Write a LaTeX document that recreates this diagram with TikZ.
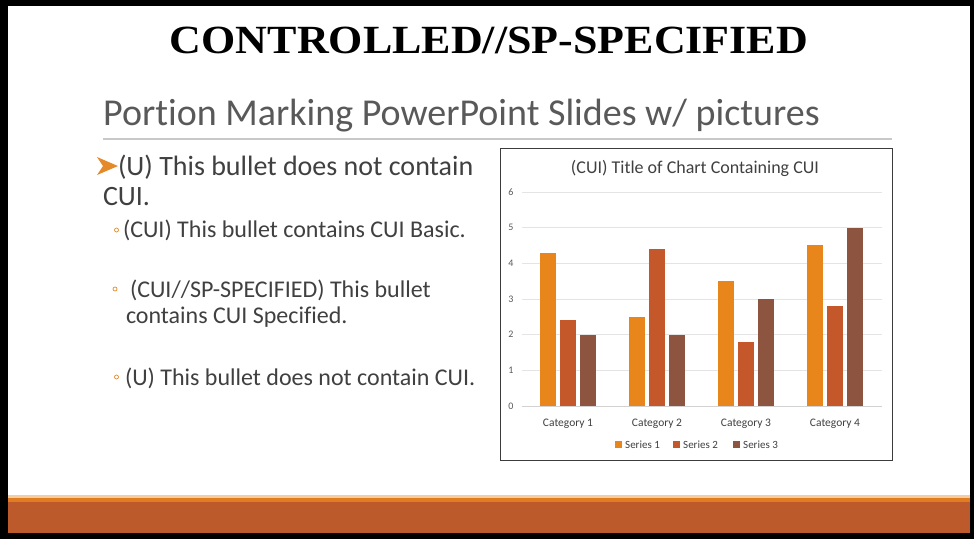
\documentclass[tikz,border=0pt]{standalone}
\usepackage{fontspec}
\setmainfont{Carlito}[Ligatures=NoCommon]
\newfontfamily\headfont{Liberation Serif}
\definecolor{barlight}{RGB}{245,205,160}
\definecolor{barmid}{RGB}{226,124,34}
\definecolor{bardark}{RGB}{188,90,44}
\definecolor{subgray}{RGB}{89,89,89}
\definecolor{txtgray}{RGB}{64,64,64}
\definecolor{rulegray}{RGB}{200,200,200}
\definecolor{arroworange}{RGB}{228,138,42}
\definecolor{serA}{RGB}{232,134,28}
\definecolor{serB}{RGB}{196,88,42}
\definecolor{serC}{RGB}{141,85,64}
\definecolor{gridgray}{RGB}{228,228,228}
\definecolor{axisgray}{RGB}{210,210,210}
\definecolor{chartborder}{RGB}{60,60,60}
\definecolor{lblgray}{RGB}{89,89,89}
\tikzset{
  txt/.style={anchor=base west, text=txtgray, inner sep=0pt, outer sep=0pt},
  big/.style={txt, font=\fontsize{28}{28}\selectfont},
  small/.style={txt, font=\fontsize{24}{24}\selectfont},
  subbul/.style={circle, draw=arroworange, line width=0.7pt, minimum size=4pt, inner sep=0pt},
  axlbl/.style={text=lblgray, font=\fontsize{10}{10}\selectfont, inner sep=0pt},
  catlbl/.style={anchor=base, text=txtgray, font=\fontsize{11.5}{11.5}\selectfont, inner sep=0pt},
  leglbl/.style={anchor=base west, text=txtgray, font=\fontsize{11}{11}\selectfont, inner sep=0pt},
}
\begin{document}
\begin{tikzpicture}[x=1pt,y=-1pt]
\useasboundingbox (0,0) rectangle (974,539);
% frame
\fill[black] (0,0) rectangle (974,539);
\fill[white] (8,6) rectangle (970,533);
\fill[barlight] (8,495) rectangle (970,497.5);
\fill[barmid] (8,497.5) rectangle (970,501.5);
\fill[bardark] (8,501.5) rectangle (970,533);
% heading
\node[anchor=base, inner sep=0pt] (head) at (489,53)
  {\headfont\bfseries\fontsize{40}{40}\selectfont\scalebox{1.1}[1]{CONTROLLED//SP-SPECIFIED}};
% subtitle
\node[anchor=base west, inner sep=0pt, text=subgray] (sub) at (103,125)
  {\fontsize{38}{38}\selectfont Portion Marking PowerPoint Slides w/ pictures};
\draw[rulegray, line width=1.2pt] (103,139) -- (892,139);
% bullets
\fill[arroworange] (97,157) -- (118,166) -- (97,175) -- (103,166) -- cycle;
\node[big] (b1) at (118,175) {(U) This bullet does not contain};
\node[big] (b1b) at (103,205) {CUI.};
\node[subbul] (c1) at (116.5,230) {};
\node[small] (s1) at (123,237) {(CUI) This bullet contains CUI Basic.};
\node[subbul] (c2) at (115,289) {};
\node[small] (s2) at (130,297) {(CUI//SP-SPECIFIED) This bullet};
\node[small] (s2b) at (126,323) {contains CUI Specified.};
\node[subbul] (c3) at (116.5,377) {};
\node[small] (s3) at (125,385) {(U) This bullet does not contain CUI.};
% chart
\node[draw=chartborder, line width=1.3pt, minimum width=392pt, minimum height=312pt, anchor=north west, inner sep=0pt] (chart) at (500,148) {};
\node[anchor=base, text=txtgray, font=\fontsize{18}{18}\selectfont, inner sep=0pt] (ctitle) at (695,173) {(CUI) Title of Chart Containing CUI};
\foreach \v in {1,...,6} {
  \draw[gridgray, line width=0.8pt] (522,406-35.67*\v) -- (882,406-35.67*\v);
}
\draw[axisgray, line width=0.9pt] (522,406) -- (882,406);
\foreach \v in {0,...,6} {
  \node[axlbl] (y\v) at (511,406-35.67*\v) {\v};
}
\foreach \k/\a/\b/\c in {0/4.3/2.4/2, 1/2.5/4.4/2, 2/3.5/1.8/3, 3/4.5/2.8/5} {
  \pgfmathsetmacro{\cx}{568+89*\k}
  \fill[serA] (\cx-28,406) rectangle (\cx-12,406-35.67*\a);
  \fill[serB] (\cx-8,406) rectangle (\cx+8,406-35.67*\b);
  \fill[serC] (\cx+12,406) rectangle (\cx+28,406-35.67*\c);
}
\node[catlbl] (cat1) at (568,426) {Category 1};
\node[catlbl] (cat2) at (657,426) {Category 2};
\node[catlbl] (cat3) at (746,426) {Category 3};
\node[catlbl] (cat4) at (835,426) {Category 4};
% legend
\fill[serA] (615,440.5) rectangle (622,447.5);
\node[leglbl] (l1) at (625,448) {Series 1};
\fill[serB] (673,440.5) rectangle (680,447.5);
\node[leglbl] (l2) at (683,448) {Series 2};
\fill[serC] (733,440.5) rectangle (740,447.5);
\node[leglbl] (l3) at (743,448) {Series 3};
\end{tikzpicture}
\end{document}
